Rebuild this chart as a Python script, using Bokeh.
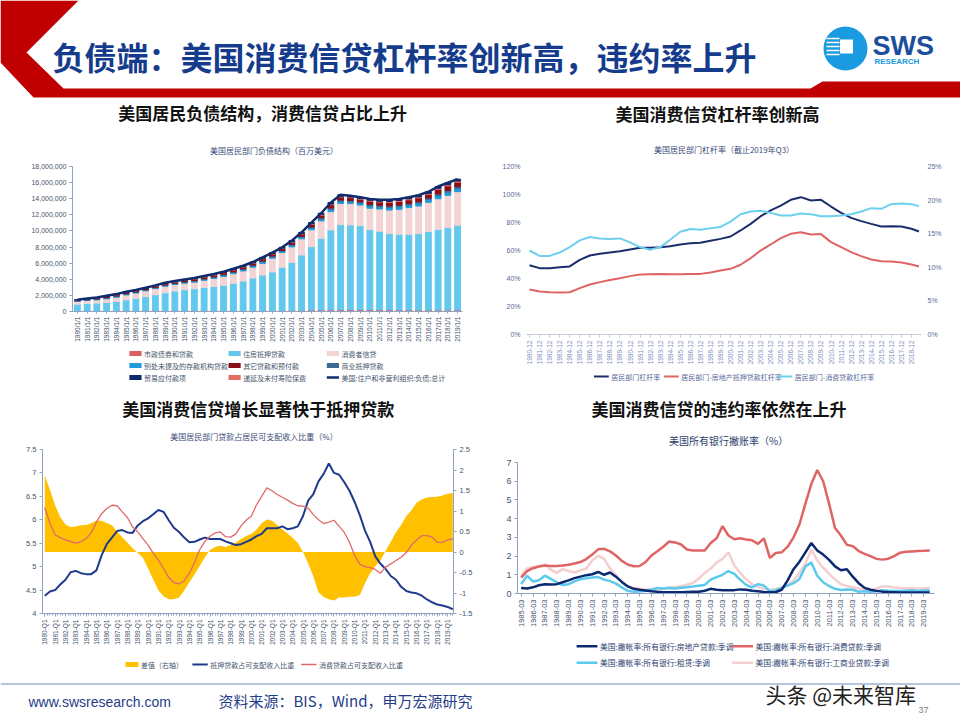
import math
from bokeh.plotting import figure
from bokeh.layouts import column, row
from bokeh.models import (Range1d, FactorRange, LinearAxis, FixedTicker,
                          NumeralTickFormatter, ColumnDataSource)
from bokeh.core.properties import value
from bokeh.embed import file_html
from bokeh.resources import INLINE

CJK = "Noto Sans CJK SC"
LAT = "Liberation Sans"
AX = "#8FA3C0"
TXT = "#44546A"

# ---------------------------------------------------------------- data
# Chart 1: household liabilities (万亿美元 -> converted to 百万美元)
c1_years = list(range(1980, 2020))
c1_labels = [f"{y}/1/1" for y in c1_years]
c1_muni = [0.05,0.05,0.06,0.07,0.08,0.09,0.10,0.11,0.11,0.12,
           0.12,0.12,0.12,0.12,0.12,0.12,0.12,0.12,0.13,0.13,
           0.13,0.14,0.15,0.16,0.18,0.19,0.20,0.21,0.21,0.21,
           0.21,0.20,0.20,0.19,0.19,0.18,0.18,0.18,0.18,0.18]
c1_mortgage = [0.86,0.95,0.98,1.05,1.16,1.36,1.52,1.74,1.97,2.20,
               2.41,2.58,2.70,2.87,2.99,3.12,3.37,3.66,4.02,4.39,
               4.77,5.34,5.95,6.85,7.87,8.90,9.92,10.58,10.54,10.45,
               9.96,9.76,9.47,9.40,9.40,9.49,9.74,9.99,10.23,10.53]
c1_consumer = [0.36,0.38,0.40,0.45,0.53,0.61,0.67,0.71,0.76,0.81,
               0.82,0.81,0.82,0.88,0.99,1.12,1.20,1.26,1.35,1.46,
               1.72,1.84,1.92,2.01,2.09,2.16,2.28,2.62,2.65,2.55,
               2.65,2.76,2.92,3.09,3.31,3.42,3.64,3.83,4.01,4.17]
c1_depository = [0.05,0.06,0.08,0.10,0.10,0.10,0.09,0.10,0.10,0.11,
                 0.11,0.12,0.13,0.13,0.14,0.15,0.16,0.16,0.16,0.19,
                 0.17,0.16,0.20,0.20,0.23,0.24,0.28,0.27,0.24,0.25,
                 0.29,0.29,0.32,0.33,0.32,0.34,0.33,0.38,0.39,0.39]
c1_commercial = [0.03,0.03,0.05,0.06,0.06,0.06,0.06,0.06,0.06,0.07,
                 0.06,0.07,0.08,0.08,0.08,0.09,0.09,0.10,0.10,0.11,
                 0.10,0.10,0.12,0.12,0.13,0.14,0.17,0.16,0.14,0.15,
                 0.17,0.17,0.19,0.20,0.19,0.20,0.20,0.23,0.23,0.23]
c1_otherloans = [0.06,0.08,0.10,0.13,0.14,0.14,0.13,0.14,0.14,0.15,
                 0.15,0.16,0.18,0.19,0.19,0.20,0.22,0.22,0.22,0.26,
                 0.24,0.23,0.27,0.28,0.32,0.33,0.40,0.37,0.34,0.34,
                 0.41,0.40,0.44,0.45,0.45,0.47,0.45,0.53,0.55,0.54]
c1_insurance = [0.01,0.02,0.02,0.03,0.03,0.03,0.03,0.03,0.04,0.04,
                0.04,0.05,0.05,0.05,0.05,0.05,0.06,0.06,0.06,0.07,
                0.07,0.06,0.07,0.08,0.09,0.10,0.11,0.11,0.10,0.09,
                0.12,0.11,0.13,0.13,0.14,0.14,0.13,0.15,0.16,0.16]
c1_trade = [0.03,0.03,0.05,0.06,0.06,0.06,0.06,0.06,0.06,0.07,
            0.07,0.07,0.07,0.08,0.09,0.09,0.09,0.10,0.10,0.11,
            0.10,0.10,0.12,0.12,0.13,0.14,0.17,0.16,0.14,0.15,
            0.17,0.17,0.19,0.19,0.19,0.20,0.19,0.23,0.23,0.23]
c1_total = [1.45,1.60,1.74,1.95,2.16,2.45,2.66,2.95,3.24,3.57,
            3.78,3.98,4.15,4.40,4.65,4.94,5.31,5.68,6.14,6.72,
            7.30,7.97,8.80,9.83,11.04,12.20,13.53,14.48,14.36,14.19,
            13.98,13.86,13.86,13.98,14.19,14.44,14.86,15.52,15.98,16.43]
c1_series = ["市政债券和贷款", "住房抵押贷款", "消费者信贷", "别处未提及的存款机构贷款",
             "商业抵押贷款", "其它贷款和预付款", "递延及未付寿险保费", "贸易应付款项"]
c1_line_name = "美国:住户和非营利组织:负债:总计"

# Chart 2: leverage ratios (%)
c2_dates = [f"{y}-12" for y in range(1980, 2019)] + ["2019-09"]
c2_total = [49.5,47.4,47.4,48.1,48.6,53.3,56.4,57.6,58.6,59.5,
            60.7,61.9,61.9,62.4,63.1,64.3,65.2,65.5,66.9,68.3,
            70.0,74.3,79.0,84.5,88.6,92.1,96.2,98.1,95.7,96.2,
            91.4,86.9,83.3,81.0,79.0,77.1,77.4,77.1,75.5,73.6]
c2_mortgage = [32.1,30.7,30.2,30.0,30.2,33.1,35.7,37.4,39.0,40.2,
               41.7,42.9,43.1,43.3,43.1,43.1,43.3,43.3,44.3,45.7,
               46.9,49.8,54.5,60.0,64.3,68.8,71.9,73.1,71.4,71.7,
               66.0,62.4,58.8,56.0,53.6,52.4,52.1,51.4,50.0,48.6]
c2_consumer = [12.5,11.7,11.7,12.2,13.0,14.0,14.5,14.3,14.2,14.3,
               13.7,13.0,12.6,13.0,14.1,15.3,15.7,15.6,15.8,16.0,
               16.8,17.9,18.3,18.4,18.1,17.7,17.7,18.0,17.9,17.6,
               17.6,17.7,17.9,18.3,18.8,18.7,19.4,19.5,19.4,19.1]
c2_series = ["居民部门杠杆率", "居民部门-房地产抵押贷款杠杆率", "居民部门-消费贷款杠杆率"]

# Chart 3: loans / disposable income (half-yearly readings)
c3_periods = [f"{1980 + k // 2}-Q{1 if k % 2 == 0 else 3}" for k in range(80)]
c3_mortgage = [4.38,4.47,4.50,4.62,4.72,4.88,4.91,4.86,4.84,4.84,
               4.92,5.24,5.48,5.62,5.76,5.78,5.73,5.72,5.88,5.97,
               6.03,6.12,6.21,6.17,5.99,5.83,5.74,5.62,5.52,5.53,
               5.58,5.62,5.59,5.59,5.59,5.54,5.50,5.46,5.48,5.53,
               5.58,5.65,5.70,5.82,5.82,5.82,5.86,5.80,5.82,5.86,
               6.08,6.41,6.55,6.82,6.98,7.20,7.00,6.96,6.80,6.62,
               6.38,6.10,5.77,5.53,5.22,5.06,4.95,4.80,4.72,4.57,
               4.48,4.45,4.43,4.38,4.30,4.24,4.19,4.17,4.14,4.09]
c3_consumer = [6.26,5.93,5.68,5.62,5.57,5.54,5.50,5.53,5.60,5.72,
               5.95,6.13,6.24,6.31,6.30,6.17,6.05,5.85,5.74,5.60,
               5.46,5.29,5.14,4.96,4.77,4.66,4.63,4.70,4.86,5.09,
               5.36,5.54,5.65,5.72,5.74,5.64,5.63,5.70,5.87,5.99,
               6.08,6.32,6.50,6.68,6.62,6.54,6.48,6.42,6.35,6.30,
               6.29,6.25,6.11,6.00,5.92,5.95,5.99,5.86,5.73,5.52,
               5.24,5.05,5.00,4.98,4.94,4.86,4.99,5.06,5.13,5.20,
               5.30,5.46,5.57,5.66,5.66,5.63,5.52,5.52,5.57,5.59]
c3_diff = [1.87,1.52,1.14,0.85,0.67,0.61,0.62,0.65,0.66,0.70,
           0.77,0.76,0.71,0.65,0.50,0.36,0.23,0.09,-0.02,-0.14,
           -0.40,-0.67,-0.93,-1.08,-1.15,-1.15,-1.11,-0.94,-0.74,-0.55,
           -0.34,-0.13,0.05,0.12,0.15,0.12,0.17,0.23,0.32,0.39,
           0.44,0.55,0.70,0.79,0.76,0.66,0.55,0.45,0.35,0.22,
           0.00,-0.28,-0.60,-0.98,-1.10,-1.15,-1.18,-1.11,-1.11,-1.09,
           -1.09,-1.05,-0.76,-0.52,-0.35,-0.21,0.03,0.25,0.48,0.66,
           0.88,1.02,1.20,1.28,1.33,1.34,1.35,1.38,1.42,1.44]
c3_series = ["差值（右轴）", "抵押贷款占可支配收入比重", "消费贷款占可支配收入比重"]

# Chart 4: charge-off rates (half-yearly readings)
c4_periods = [f"{1985 + k // 2}-{'03' if k % 2 == 0 else '09'}" for k in range(70)]
c4_realestate = [0.30,0.27,0.33,0.44,0.49,0.48,0.50,0.60,0.70,0.82,
                 0.90,0.98,1.03,1.15,1.00,1.12,0.90,0.62,0.38,0.25,
                 0.20,0.16,0.12,0.09,0.07,0.07,0.07,0.07,0.08,0.09,
                 0.09,0.15,0.25,0.20,0.18,0.18,0.18,0.22,0.20,0.15,
                 0.12,0.08,0.07,0.08,0.20,0.70,1.30,1.70,2.20,2.70,
                 2.30,2.08,1.80,1.45,1.24,1.30,0.90,0.55,0.30,0.20,
                 0.14,0.10,0.08,0.07,0.05,0.05,0.05,0.05,0.05,0.05]
c4_consumer = [0.85,1.20,1.35,1.44,1.50,1.47,1.47,1.50,1.54,1.60,
               1.68,1.84,2.08,2.36,2.39,2.25,2.03,1.74,1.55,1.46,
               1.47,1.68,2.03,2.26,2.50,2.78,2.73,2.62,2.35,2.30,
               2.30,2.30,2.70,2.95,3.60,3.10,2.90,2.95,2.88,2.84,
               2.65,2.95,1.90,2.16,2.20,2.50,3.00,3.70,4.80,5.85,
               6.60,6.00,4.80,3.50,3.10,2.60,2.53,2.27,2.12,2.00,
               1.85,1.81,1.86,2.00,2.18,2.23,2.25,2.27,2.28,2.30]
c4_lease = [0.50,0.95,0.64,0.71,0.95,0.78,0.60,0.45,0.50,0.65,
            0.76,0.82,0.86,0.88,0.74,0.66,0.53,0.33,0.14,0.09,
            0.11,0.15,0.20,0.30,0.27,0.30,0.27,0.31,0.34,0.37,
            0.42,0.46,0.74,0.87,1.00,1.20,1.05,0.73,0.46,0.32,
            0.50,0.42,0.12,0.16,0.30,0.42,0.55,0.78,1.45,1.65,
            0.95,0.60,0.40,0.25,0.19,0.22,0.20,0.09,0.12,0.09,
            0.12,0.17,0.15,0.13,0.13,0.15,0.17,0.14,0.16,0.18]
c4_ci = [0.95,1.35,1.42,1.45,1.55,1.28,1.10,1.30,1.20,1.12,
         1.24,1.32,1.77,2.02,1.85,1.35,0.98,0.60,0.40,0.30,
         0.25,0.20,0.26,0.22,0.27,0.32,0.35,0.40,0.47,0.56,
         0.80,1.10,1.33,1.65,1.85,2.20,1.50,1.10,0.75,0.50,
         0.35,0.27,0.19,0.25,0.32,0.45,0.70,1.10,1.60,2.35,
         1.77,1.38,1.05,0.75,0.50,0.40,0.33,0.27,0.21,0.18,
         0.26,0.38,0.37,0.32,0.29,0.28,0.30,0.27,0.27,0.32]
c4_series = ["美国:撇帐率:所有银行:房地产贷款:季调", "美国:撇帐率:所有银行:消费贷款:季调",
             "美国:撇帐率:所有银行:租赁:季调", "美国:撇帐率:所有银行:工商业贷款:季调"]

MAIN_TITLE = "负债端：美国消费信贷杠杆率创新高，违约率上升"


# ---------------------------------------------------------------- helpers
def base_fig(w, h, xr, yr, l, r, t, b):
    p = figure(width=w, height=h, x_range=xr, y_range=yr, output_backend="svg",
               toolbar_location=None, min_border_left=l, min_border_right=r,
               min_border_top=t, min_border_bottom=b, outline_line_color=None,
               background_fill_color="white", border_fill_color="white", title=None)
    p.xgrid.visible = False
    p.ygrid.visible = False
    return p


def overlay(x0, y0, w, h):
    """A plain drawing panel whose data coordinates are the page pixels."""
    p = figure(width=w, height=h, x_range=Range1d(x0, x0 + w), y_range=Range1d(y0 + h, y0),
               output_backend="svg", toolbar_location=None, min_border_left=0,
               min_border_right=0, min_border_top=0, min_border_bottom=0,
               outline_line_color=None, x_axis_location=None, y_axis_location=None,
               title=None, background_fill_color="white", border_fill_color="white")
    p.xgrid.visible = False
    p.ygrid.visible = False
    return p


def style_axis(ax, size, color=AX, lab_color=TXT, font=LAT):
    ax.axis_line_color = color
    ax.major_tick_line_color = color
    ax.minor_tick_line_color = color
    ax.major_tick_in = 0
    ax.major_tick_out = 3
    ax.minor_tick_in = 0
    ax.minor_tick_out = 0
    ax.major_label_text_font = font
    ax.major_label_text_font_size = size
    ax.major_label_text_color = lab_color
    ax.major_label_standoff = 3


def put_text(p, x, y, text, size, color, bold=False, font=CJK, align="center"):
    p.text(x=[x], y=[y], text=[text], text_font=value(font), text_font_size=size,
           text_color=color, text_font_style="bold" if bold else "normal",
           text_align=align, text_baseline="middle")


def key(p, x, y, kind, color, label, size, gw, th, lab_color=TXT):
    if kind == "line":
        p.segment(x0=[x], y0=[y], x1=[x + gw], y1=[y], line_color=color, line_width=th)
    else:
        p.rect(x=[x + gw / 2], y=[y], width=gw, height=th, fill_color=color, line_color=None)
    put_text(p, x + gw + 3, y, label, size, lab_color, align="left")


# ---------------------------------------------------------------- header
ph = overlay(0, 0, 960, 100)
ph.patch([0, 78, 26, 63, 810, 822, 960, 960, 33, 0],
         [0, 0, 52, 88, 88, 81, 81, 97, 97, 62],
         fill_color="#C00000", line_color=None)
put_text(ph, 52, 55, MAIN_TITLE, "32px", "#153C8C", bold=True, align="left")
ph.circle(x=[845], y=[48], radius=22, fill_color="#1A9AE0", line_color=None)
ph.rect(x=[846], y=[46], width=13, height=14, fill_color="white", line_color=None)
ph.segment(x0=[826] * 5, y0=[38, 42, 46, 50, 54], x1=[839] * 5, y1=[38, 42, 46, 50, 54],
           line_color="white", line_width=1.6)
put_text(ph, 872, 45, "SWS", "27px", "#1B4F9C", bold=True, font=LAT, align="left")
put_text(ph, 874, 61, "RESEARCH", "8px", "#1A9AE0", bold=True, font=LAT, align="left")

# ---------------------------------------------------------------- chart 1
M = 1e6
keys = ["muni", "mortgage", "consumer", "depository", "commercial", "otherloans",
        "insurance", "trade"]
cols = ["#D9605E", "#62C8EE", "#F3D3D3", "#1E9BDB", "#3D6B96", "#8B0F14",
        "#E46A64", "#0D2A6B"]
LINE1 = "#0F2C6E"
src1 = ColumnDataSource(dict(
    year=c1_labels,
    muni=[v * M for v in c1_muni], mortgage=[v * M for v in c1_mortgage],
    consumer=[v * M for v in c1_consumer], depository=[v * M for v in c1_depository],
    commercial=[v * M for v in c1_commercial], otherloans=[v * M for v in c1_otherloans],
    insurance=[v * M for v in c1_insurance], trade=[v * M for v in c1_trade],
    total=[v * M for v in c1_total]))

t1 = overlay(0, 100, 480, 60)
put_text(t1, 234, 112, "美国居民负债结构，消费信贷占比上升", "17px", "#111111", bold=True)
put_text(t1, 248, 150, "美国居民部门负债结构（百万美元）", "8px", "#3B4A78")

p1 = base_fig(480, 186, FactorRange(*c1_labels), Range1d(0, 18e6), 72, 18, 6, 35)
p1.vbar_stack(keys, x="year", width=0.6, color=cols, source=src1)
p1.line(x="year", y="total", source=src1, line_color=LINE1, line_width=2.5)
style_axis(p1.yaxis[0], "7px")
p1.yaxis.ticker = FixedTicker(ticks=[i * 2e6 for i in range(10)])
p1.yaxis.formatter = NumeralTickFormatter(format="0,0")
style_axis(p1.xaxis[0], "6.5px")
p1.xaxis.major_label_orientation = math.pi / 2
p1.xaxis.major_tick_out = 2

g1 = overlay(0, 346, 480, 50)
c1_order = [(0, 0), (1, 1), (2, 2), (3, 0), (5, 1), (4, 2), (7, 0), (6, 1)]
colx = [70, 192, 313]
rowy = [353, 365, 377]
for n, (i, c) in enumerate(c1_order):
    key(g1, colx[c], rowy[n // 3], "rect", cols[i], c1_series[i], "7px", 15, 5)
key(g1, colx[2], rowy[2], "line", LINE1, c1_line_name, "7px", 15, 2.5)

# ---------------------------------------------------------------- chart 2
C2 = ["#1B2E6B", "#E06363", "#6DD0EE"]
c2_x = [int(d[:4]) - 1980 + (int(d[5:]) - 12) / 12 for d in c2_dates]
t2 = overlay(480, 100, 480, 60)
put_text(t2, 712, 113, "美国消费信贷杠杆率创新高", "17px", "#111111", bold=True)
put_text(t2, 720, 149, "美国居民部门杠杆率（截止2019年Q3）", "8px", "#3B4A78")

p2 = base_fig(480, 210, Range1d(-0.3, 39.0), Range1d(0, 120), 46, 39, 6, 36)
p2.extra_y_ranges = {"r": Range1d(0, 25)}
p2.line(c2_x, c2_total, line_color=C2[0], line_width=2)
p2.line(c2_x, c2_mortgage, line_color=C2[1], line_width=2)
p2.line(c2_x, c2_consumer, line_color=C2[2], line_width=2, y_range_name="r")
ra = LinearAxis(y_range_name="r")
p2.add_layout(ra, "right")
for ax, tk in ((p2.yaxis[0], [0, 20, 40, 60, 80, 100, 120]), (ra, [0, 5, 10, 15, 20, 25])):
    style_axis(ax, "7px", lab_color="#5A6A9A")
    ax.axis_line_color = None
    ax.major_tick_line_color = None
    ax.minor_tick_line_color = None
    ax.ticker = FixedTicker(ticks=tk)
    ax.major_label_overrides = {t: f"{t}%" for t in tk}
    ax.major_label_standoff = 3
style_axis(p2.xaxis[0], "6.5px", color="#C8CCD8", lab_color="#7F8FBF")
p2.xaxis.ticker = FixedTicker(ticks=list(range(39)))
p2.xaxis.major_label_overrides = {i: c2_dates[i] for i in range(39)}
p2.xaxis.major_label_orientation = math.pi / 2

g2 = overlay(480, 370, 480, 26)
for xk, c, lab in zip([562, 647, 785], C2, c2_series):
    key(g2, xk, 376, "line", c, lab, "7px", 18, 2, lab_color="#5A6A9A")

# ---------------------------------------------------------------- chart 3
C3 = ["#FFC000", "#1F3A8A", "#E06A6A"]
c3_t = [int(s[:4]) + (int(s[-1]) - 1) / 4 for s in c3_periods]
t3 = overlay(0, 396, 480, 47)
put_text(t3, 252, 408, "美国消费信贷增长显著快于抵押贷款", "17px", "#111111", bold=True)
put_text(t3, 247, 436, "美国居民部门贷款占居民可支配收入比重（%）", "8px", "#3B4A78")

p3 = base_fig(480, 209, Range1d(1979.78, 2019.57), Range1d(4, 7.5), 42, 27, 6, 39)
p3.extra_y_ranges = {"r": Range1d(-1.5, 2.5)}
p3.varea(x=c3_t, y1=[0] * len(c3_t), y2=c3_diff, fill_color=C3[0], y_range_name="r")
p3.line(c3_t, c3_mortgage, line_color=C3[1], line_width=2)
p3.line(c3_t, c3_consumer, line_color=C3[2], line_width=1.3)
ra3 = LinearAxis(y_range_name="r")
p3.add_layout(ra3, "right")
lt = [4, 4.5, 5, 5.5, 6, 6.5, 7, 7.5]
rt = [-1.5, -1, -0.5, 0, 0.5, 1, 1.5, 2, 2.5]
style_axis(p3.yaxis[0], "7.5px")
p3.yaxis.ticker = FixedTicker(ticks=lt)
p3.yaxis.major_label_overrides = {t: f"{t:g}" for t in lt}
style_axis(ra3, "7.5px")
ra3.ticker = FixedTicker(ticks=rt)
ra3.major_label_overrides = {t: f"{t:g}" for t in rt}
style_axis(p3.xaxis[0], "6.5px")
p3.xaxis.ticker = FixedTicker(ticks=list(range(1980, 2020)),
                              minor_ticks=[1980 + q / 4 for q in range(160)])
p3.xaxis.minor_tick_out = 2
p3.xaxis.major_label_overrides = {y: f"{y}-Q1" for y in range(1980, 2020)}
p3.xaxis.major_label_orientation = math.pi / 2

g3 = overlay(0, 652, 480, 28)
key(g3, 97, 664, "rect", C3[0], c3_series[0], "7px", 15, 5)
key(g3, 175, 664, "line", C3[1], c3_series[1], "7px", 18, 2)
key(g3, 302, 664, "line", C3[2], c3_series[2], "7px", 18, 1.5)

# ---------------------------------------------------------------- chart 4
C4 = ["#0C2A70", "#DF6464", "#5CC9EE", "#F5CFD0"]
c4_t = [int(s[:4]) + (int(s[5:]) - 3) / 12 for s in c4_periods]
t4 = overlay(480, 396, 480, 54)
put_text(t4, 712, 408, "美国消费信贷的违约率依然在上升", "17px", "#111111", bold=True)
put_text(t4, 723, 440, "美国所有银行撇账率（%）", "10px", "#2E3E70")

p4 = base_fig(480, 186, Range1d(1984.69, 2019.9), Range1d(0, 7), 37, 26, 12, 43)
p4.line(c4_t, c4_ci, line_color=C4[3], line_width=2.5)
p4.line(c4_t, c4_lease, line_color=C4[2], line_width=2.5)
p4.line(c4_t, c4_realestate, line_color=C4[0], line_width=2.5)
p4.line(c4_t, c4_consumer, line_color=C4[1], line_width=2.5)
style_axis(p4.yaxis[0], "9px")
p4.yaxis.ticker = FixedTicker(ticks=list(range(8)))
style_axis(p4.xaxis[0], "7.5px")
p4.xaxis.ticker = FixedTicker(ticks=list(range(1985, 2020)))
p4.xaxis.major_label_overrides = {y: f"{y}-03" for y in range(1985, 2020)}
p4.xaxis.major_label_orientation = math.pi / 2

g4 = overlay(480, 636, 480, 44)
for i, (xk, yk) in enumerate([(548, 645.7), (727, 645.7), (548, 662.3), (727, 662.3)]):
    key(g4, xk, yk, "line", C4[i], c4_series[i], "7.8px", 24, 2.5, lab_color="#2E3E70")

# ---------------------------------------------------------------- footer
pf = overlay(0, 680, 960, 40)
pf.line([0, 960], [683.5, 683.5], line_color="#9DB3CF", line_width=1.5)
put_text(pf, 28, 701, "www.swsresearch.com", "14px", "#1F3C88", font=LAT, align="left")
put_text(pf, 218, 700, "资料来源：BIS，Wind，申万宏源研究", "15px", "#1F3C88", align="left")
put_text(pf, 918, 709, "37", "9px", "#7F7F7F", font=LAT, align="left")
put_text(pf, 765, 693, "头条 @未来智库", "21px", "#222222", align="left")

layout = column(ph,
                row(column(t1, p1, g1), column(t2, p2, g2)),
                row(column(t3, p3, g3), column(t4, p4, g4)),
                pf)
open("out.html", "w").write(file_html(layout, INLINE))
